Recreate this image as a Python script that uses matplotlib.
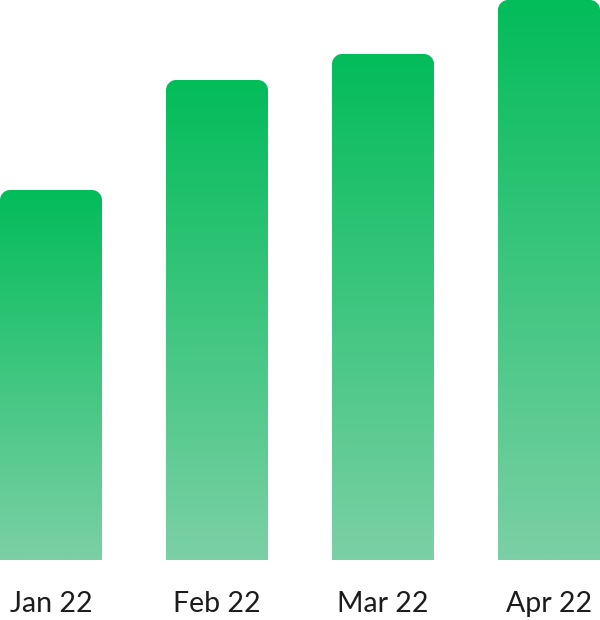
import numpy as np
import matplotlib
matplotlib.use("Agg")
import matplotlib.pyplot as plt
from matplotlib.path import Path
from matplotlib.patches import PathPatch
from matplotlib.colors import LinearSegmentedColormap

categories = ["Jan 22", "Feb 22", "Mar 22", "Apr 22"]
values = [370, 480, 506, 560]

top_color = "#03bc5a"
bottom_color = "#7bd0a5"

W, H = 600, 620
fig = plt.figure(figsize=(W / 100, H / 100), dpi=100)
ax = fig.add_axes([0, 60 / H, 1, 560 / H])
ymax = max(values)
bar_w = 102 / 166
x = np.arange(len(categories))
for s in ax.spines.values():
    s.set_visible(False)
ax.set_yticks([])
ax.set_xticks(x)
ax.set_xticklabels(categories, fontsize=20.5, color="#1c1c1c", family=["Lato", "DejaVu Sans"])
ax.tick_params(axis="x", length=0, pad=22)

cmap = LinearSegmentedColormap.from_list("g", [bottom_color, top_color])
grad = np.linspace(0, 1, 256).reshape(-1, 1)

px_x = 166.0
px_y = 560.0 / ymax
r_px = 10
rx = r_px / px_x
ry = r_px / px_y
k = 0.5523

for xi, v in zip(x, values):
    l, r = xi - bar_w / 2, xi + bar_w / 2
    verts = [
        (l, 0), (l, v - ry),
        (l, v - ry + k * ry), (l + rx - k * rx, v), (l + rx, v),
        (r - rx, v),
        (r - rx + k * rx, v), (r, v - ry + k * ry), (r, v - ry),
        (r, 0), (l, 0),
    ]
    codes = [Path.MOVETO, Path.LINETO,
             Path.CURVE4, Path.CURVE4, Path.CURVE4,
             Path.LINETO,
             Path.CURVE4, Path.CURVE4, Path.CURVE4,
             Path.LINETO, Path.CLOSEPOLY]
    patch = PathPatch(Path(verts, codes), facecolor="none", edgecolor="none")
    ax.add_patch(patch)
    im = ax.imshow(grad, cmap=cmap, origin="lower", aspect="auto",
                   extent=(l, r, 0, v), interpolation="bilinear")
    im.set_clip_path(patch)

ax.set_xlim(-bar_w / 2, len(categories) - 1 + bar_w / 2)
ax.set_ylim(0, ymax)
fig.savefig("out.png", dpi=100)
